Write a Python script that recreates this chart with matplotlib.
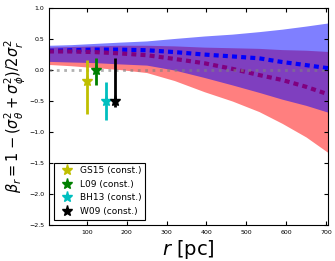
import numpy as np
import matplotlib
matplotlib.use('Agg')
import matplotlib.pyplot as plt

# perfiles de anisotropia
r_perfil = [5, 60, 120, 180, 250, 320, 395, 465, 532, 590, 650, 705]
azul_sup = [0.40, 0.41, 0.43, 0.45, 0.47, 0.51, 0.55, 0.58, 0.62, 0.66, 0.71, 0.76]
azul_inf = [0.14, 0.13, 0.12, 0.10, 0.08, 0.00, -0.12, -0.24, -0.36, -0.47, -0.57, -0.68]
azul_med = [0.31, 0.32, 0.33, 0.33, 0.32, 0.29, 0.25, 0.22, 0.19, 0.13, 0.08, 0.03]
rojo_sup = [0.37, 0.38, 0.39, 0.40, 0.40, 0.39, 0.37, 0.36, 0.35, 0.33, 0.32, 0.30]
rojo_inf = [0.09, 0.07, 0.04, 0.01, -0.04, -0.17, -0.35, -0.50, -0.67, -0.86, -1.08, -1.33]
rojo_med = [0.30, 0.30, 0.29, 0.27, 0.24, 0.18, 0.11, 0.02, -0.08, -0.16, -0.27, -0.39]

# mediciones previas (anisotropia constante)
etiquetas = ['GS15 (const.)', 'L09 (const.)', 'BH13 (const.)', 'W09 (const.)']
colores = ['y', 'g', 'c', 'k']
r_obs = [100, 123, 147, 172]
beta_obs = [-0.17, 0.0, -0.5, -0.5]
err_sup = [0.34, 0.20, 0.31, 0.70]
err_inf = [0.54, 0.24, 0.31, 0.10]

fig = plt.figure(figsize=(3.35, 2.61), dpi=100)
ax = fig.add_axes([0.146, 0.138, 0.833, 0.831])

ax.fill_between(r_perfil, rojo_inf, rojo_sup, color='r', alpha=0.5, lw=0)
ax.fill_between(r_perfil, azul_inf, azul_sup, color='b', alpha=0.5, lw=0)
ax.plot(r_perfil, azul_med, color='b', lw=3, dashes=(1.2, 1.0))
ax.plot(r_perfil, rojo_med, color='purple', lw=3, dashes=(1.2, 1.0))
ax.axhline(0, color='gray', lw=2, ls=':', alpha=0.6)

for i in range(len(etiquetas)):
    ax.errorbar(r_obs[i], beta_obs[i], yerr=[[err_inf[i]], [err_sup[i]]],
                color=colores[i], marker='*', ms=8, lw=2, capsize=0,
                label=etiquetas[i], ls='none')

ax.set_xlim(5, 705)
ax.set_ylim(-2.5, 1.0)
ax.set_xticks([100, 200, 300, 400, 500, 600, 700])
ax.set_yticks([-2.5, -2.0, -1.5, -1.0, -0.5, 0.0, 0.5, 1.0])
ax.tick_params(direction='in', top=True, right=True, labelsize=4.5, length=3)
ax.set_xlabel(r'$r$ [pc]', fontsize=14, labelpad=2)
ax.set_ylabel(r'$\beta_r = 1-(\sigma_\theta^2+\sigma_\phi^2)/2\sigma_r^2$', fontsize=10.5, labelpad=1)

# leyenda con solo la estrella (sin barra de error)
handles = [plt.Line2D([], [], color=c, marker='*', ms=8, ls='none') for c in colores]
leg = ax.legend(handles, etiquetas, loc='lower left', fontsize=6.5, numpoints=1,
                fancybox=False, framealpha=1, edgecolor='k', borderaxespad=0.6,
                handletextpad=0.4)
leg.get_frame().set_linewidth(0.8)

fig.savefig('out.png', dpi=100)
